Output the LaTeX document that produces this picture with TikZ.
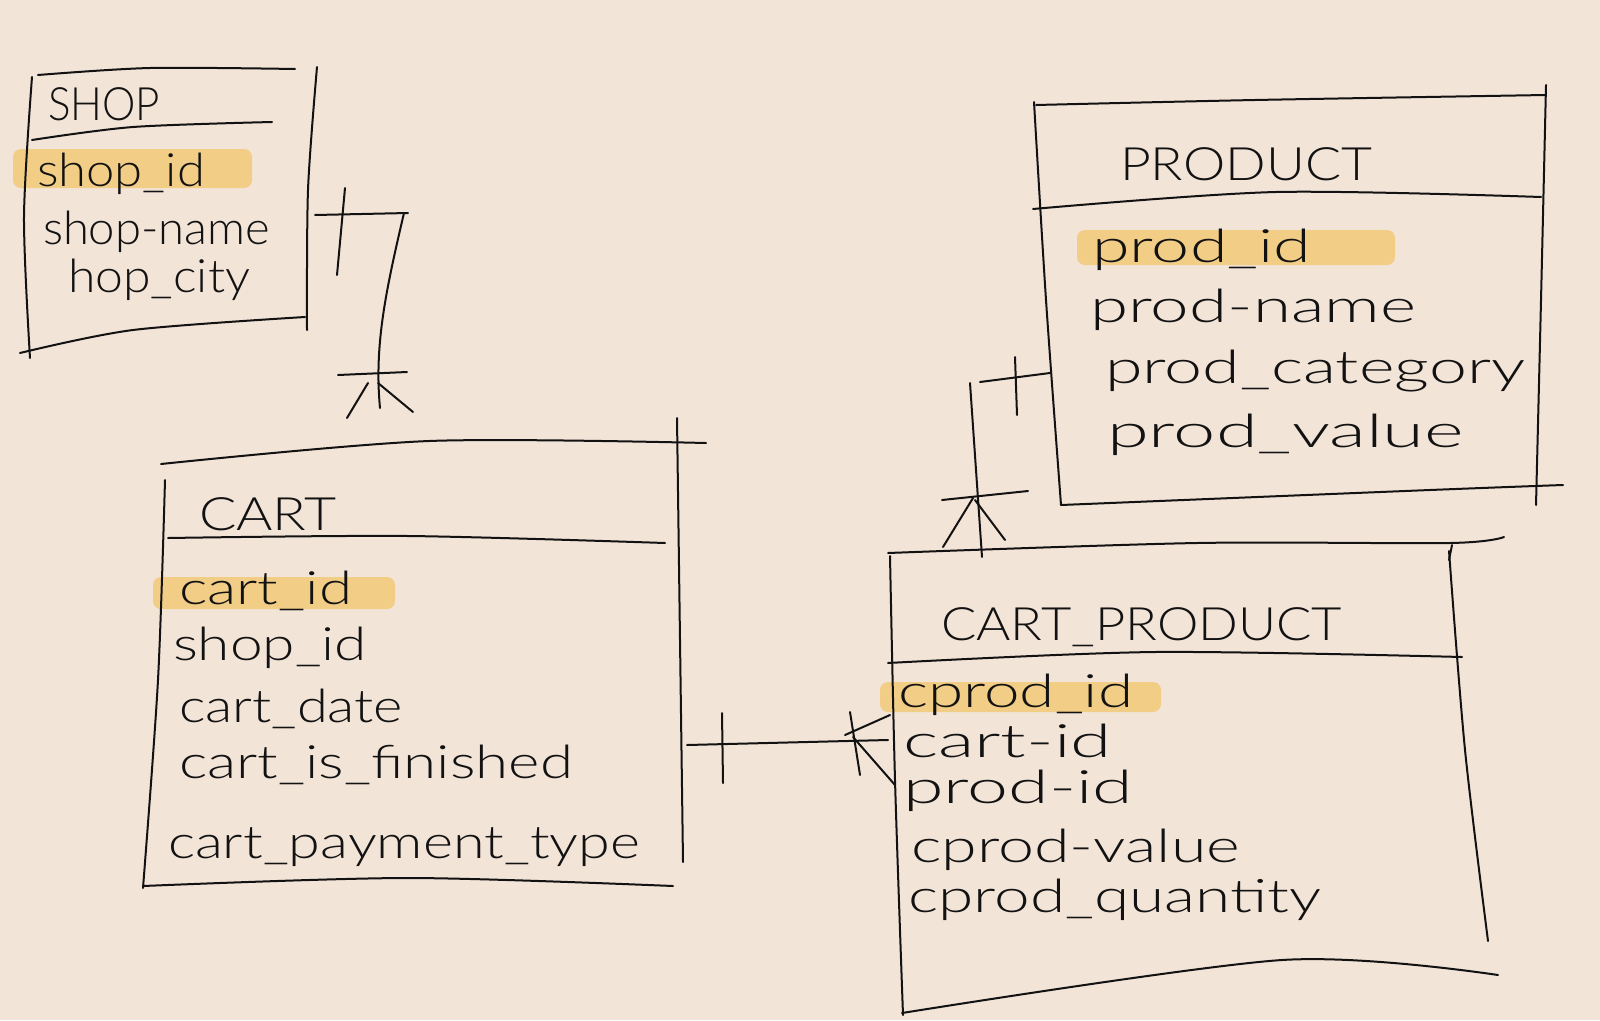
\documentclass[tikz,border=0pt]{standalone}
\usepackage{fontspec}
\setmainfont{Lato Light}
\usepackage{graphicx}
\definecolor{bg}{HTML}{F3E4D8}
\definecolor{hl}{HTML}{F2CD86}
\definecolor{ink}{HTML}{121212}
\newcommand\fitw[2]{\resizebox{#1pt}{\height}{#2}}
\begin{document}
\begin{tikzpicture}[x=1pt,y=-1pt,
  pen/.style={draw=ink, line width=2pt, line cap=round, line join=round},
  txt/.style={anchor=base west, inner sep=0pt, outer sep=0pt, text=ink, font=\fontsize{46}{50}\selectfont},
  hilite/.style={fill=hl, draw=none, rounded corners=8pt}]
\fill[bg] (0,0) rectangle (1600,1020);
\useasboundingbox (0,0) rectangle (1600,1020);

% highlights
\path[hilite] (13,149) rectangle (252,188);
\path[hilite] (153,577) rectangle (395,609);
\path[hilite] (1077,230) rectangle (1395,265);
\path[hilite] (880,682) rectangle (1161,712);

% SHOP
\draw[pen] plot[smooth] coordinates {(38,75) (150,68) (295,69)};
\draw[pen] plot[smooth] coordinates {(32,77) (24,217) (30,358)};
\draw[pen] plot[smooth] coordinates {(317,67) (308,190) (307,330)};
\draw[pen] plot[smooth] coordinates {(32,140) (133,127) (272,122)};
\draw[pen] plot[smooth] coordinates {(20,353) (133,330) (305,317)};
\node[txt] (shopT) at (48,120) {\fitw{112}{SHOP}};
\node[txt] (shopA1) at (37,186) {\fitw{168}{shop\_id}};
\node[txt] (shopA2) at (43,244) {\fitw{227}{shop-name}};
\node[txt] (shopA3) at (68,292) {\fitw{182}{hop\_city}};

% CART
\draw[pen] plot[smooth] coordinates {(161,464) (429,441) (706,443)};
\draw[pen] plot[smooth] coordinates {(165,480) (158,680) (143,888)};
\draw[pen] plot[smooth] coordinates {(677,418) (680,640) (683,862)};
\draw[pen] plot[smooth] coordinates {(168,538) (408,536) (665,543)};
\draw[pen] plot[smooth] coordinates {(143,886) (408,878) (673,886)};
\node[txt] (cartT) at (199,530) {\fitw{138}{CART}};
\node[txt] (cartA1) at (179,604) {\fitw{173}{cart\_id}};
\node[txt] (cartA2) at (173,660) {\fitw{194}{shop\_id}};
\node[txt] (cartA3) at (179,722) {\fitw{224}{cart\_date}};
\node[txt] (cartA4) at (179,778) {\fitw{394}{cart\_is\_finished}};
\node[txt] (cartA5) at (168,858) {\fitw{472}{cart\_payment\_type}};

% PRODUCT
\draw[pen] plot[smooth] coordinates {(1036,105) (1255,100) (1546,95)};
\draw[pen] plot[smooth] coordinates {(1034,102) (1046,300) (1061,505)};
\draw[pen] plot[smooth] coordinates {(1546,85) (1541,300) (1536,505)};
\draw[pen] plot[smooth] coordinates {(1033,209) (1276,192) (1541,197)};
\draw[pen] plot[smooth] coordinates {(1061,505) (1430,490) (1563,485)};
\node[txt] (prodT) at (1120,180) {\fitw{252}{PRODUCT}};
\node[txt] (prodA1) at (1092,262) {\fitw{219}{prod\_id}};
\node[txt] (prodA2) at (1090,322) {\fitw{326}{prod-name}};
\node[txt] (prodA3) at (1105,383) {\fitw{420}{prod\_category}};
\node[txt] (prodA4) at (1107,447) {\fitw{357}{prod\_value}};

% CART_PRODUCT
\draw[pen] plot[smooth] coordinates {(888,553) (1197,543) (1450,543) (1504,537)};
\draw[pen] plot[smooth] coordinates {(890,556) (895,780) (903,1015)};
\draw[pen] plot[smooth] coordinates {(1449,551) (1465,750) (1488,941)};
\draw[pen] (1452,545) -- (1449,560);
\draw[pen] plot[smooth] coordinates {(888,663) (1155,652) (1462,657)};
\draw[pen] plot[smooth] coordinates {(902,1013) (1282,960) (1498,975)};
\node[txt] (cpT) at (941,640) {\fitw{401}{CART\_PRODUCT}};
\node[txt] (cpA1) at (898,707) {\fitw{235}{cprod\_id}};
\node[txt] (cpA2) at (903,757) {\fitw{209}{cart-id}};
\node[txt] (cpA3) at (903,803) {\fitw{230}{prod-id}};
\node[txt] (cpA4) at (911,862) {\fitw{329}{cprod-value}};
\node[txt] (cpA5) at (908,912) {\fitw{413}{cprod\_quantity}};

% connector SHOP -- CART
\coordinate (shopR) at (315,215);
\coordinate (shopK) at (404,213);
\coordinate (cartF) at (380,408);
\draw[pen] (shopR) -- (408,213);
\draw[pen] (shopK) .. controls (386,290) and (374,345) .. (cartF);
\draw[pen] (345,188) -- (337,275);
\draw[pen] (338,375) -- (407,372);
\draw[pen] (368,383) -- (347,418);
\draw[pen] (378,383) -- (413,412);

% connector CART -- CART_PRODUCT
\coordinate (cartR) at (687,745);
\coordinate (cpL) at (888,740);
\draw[pen] (cartR) -- (cpL);
\draw[pen] (722,713) -- (723,783);
\draw[pen] (850,712) -- (860,775);
\draw[pen] (845,735) -- (890,715);
\draw[pen] (853,737) -- (895,785);

% connector CART_PRODUCT -- PRODUCT
\coordinate (prodL) at (1050,373);
\coordinate (prodK) at (970,383);
\coordinate (cpTop) at (982,557);
\draw[pen] (980,382) -- (prodL);
\draw[pen] (prodK) -- (cpTop);
\draw[pen] (1015,357) -- (1017,415);
\draw[pen] (942,500) -- (1028,491);
\draw[pen] (943,547) -- (973,498);
\draw[pen] (975,500) -- (1005,540);
\end{tikzpicture}
\end{document}
